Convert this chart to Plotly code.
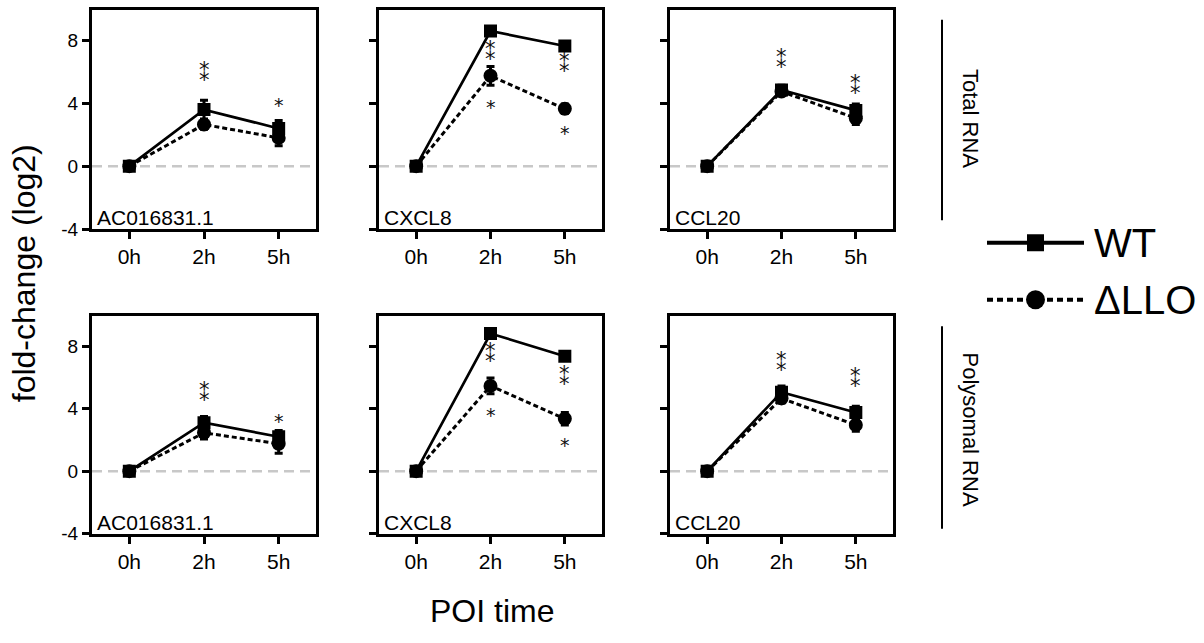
import plotly.graph_objects as go

# ---------------- data ----------------
times = ["0h", "2h", "5h"]
xpos = [0, 1, 2]
genes = ["AC016831.1", "CXCL8", "CCL20"]
fractions = ["Total RNA", "Polysomal RNA"]

# Total RNA
wt_total = [[0.0, 3.6, 2.4], [0.0, 8.6, 7.65], [0.0, 4.85, 3.55]]
wt_total_err = [[0.1, 0.6, 0.5], [0.1, 0.2, 0.2], [0.1, 0.3, 0.4]]
dllo_total = [[0.0, 2.65, 1.8], [0.0, 5.75, 3.65], [0.0, 4.75, 3.05]]
dllo_total_err = [[0.1, 0.3, 0.5], [0.1, 0.6, 0.3], [0.1, 0.2, 0.4]]

# Polysomal RNA
wt_poly = [[0.0, 3.1, 2.2], [0.0, 8.8, 7.35], [0.0, 5.05, 3.75]]
wt_poly_err = [[0.1, 0.4, 0.4], [0.1, 0.2, 0.2], [0.1, 0.4, 0.4]]
dllo_poly = [[0.0, 2.45, 1.75], [0.0, 5.45, 3.35], [0.0, 4.65, 2.95]]
dllo_poly_err = [[0.1, 0.4, 0.6], [0.1, 0.5, 0.4], [0.1, 0.3, 0.4]]

# significance marks: (x index, y centre, number of stacked asterisks)
stars_total = [
    [(1, 5.9, 2), (2, 4.2, 1)],
    [(1, 7.25, 2), (1, 4.1, 1), (2, 6.45, 2), (2, 2.4, 1)],
    [(1, 6.75, 2), (2, 5.1, 2)],
]
stars_poly = [
    [(1, 4.95, 2), (2, 3.55, 1)],
    [(1, 7.45, 2), (1, 3.9, 1), (2, 6.0, 2), (2, 2.0, 1)],
    [(1, 6.9, 2), (2, 5.85, 2)],
]

y_tickvals = [-4, 0, 4, 8]
y_ticktext = ["-4", "0", "4", "8"]
legend_names = ["WT", "ΔLLO"]

FONT = "Liberation Sans, Arial, Helvetica, sans-serif"
STARFONT = "DejaVu Sans, sans-serif"
W, H = 1204, 643

def px_x(p):
    return p / W

def px_y(p):
    return 1 - p / H

col_px = [(92, 316), (379, 602), (670, 893)]
row_px = [(10, 233), (321, 543)]

fig = go.Figure()

rows = [
    (wt_total, wt_total_err, dllo_total, dllo_total_err, stars_total),
    (wt_poly, wt_poly_err, dllo_poly, dllo_poly_err, stars_poly),
]

annotations = []
shapes = []
ax_idx = 0
for r, (wt, wte, dl, dle, stars) in enumerate(rows):
    for c in range(3):
        ax_idx += 1
        xa = "x" if ax_idx == 1 else f"x{ax_idx}"
        ya = "y" if ax_idx == 1 else f"y{ax_idx}"
        xkey = "xaxis" if ax_idx == 1 else f"xaxis{ax_idx}"
        ykey = "yaxis" if ax_idx == 1 else f"yaxis{ax_idx}"
        x0, x1 = col_px[c]
        y0, y1 = row_px[r]
        fig.update_layout({
            xkey: dict(
                domain=[px_x(x0), px_x(x1)], anchor=ya, range=[-0.5, 2.5],
                tickvals=xpos, ticktext=times, showline=True, mirror=True,
                linecolor="black", linewidth=3, ticks="outside", ticklen=7,
                tickwidth=2.5, tickcolor="black", showgrid=False, zeroline=False,
                tickfont=dict(family=FONT, size=21, color="black"),
            ),
            ykey: dict(
                domain=[px_y(y1), px_y(y0)], anchor=xa, range=[-4, 9.95],
                tickvals=y_tickvals, ticktext=y_ticktext if c == 0 else None,
                showticklabels=(c == 0), showline=True, mirror=True,
                linecolor="black", linewidth=3, ticks="outside", ticklen=7,
                tickwidth=2.5, tickcolor="black", showgrid=False, zeroline=False,
                tickfont=dict(family=FONT, size=19, color="black"),
            ),
        })
        # zero reference line
        shapes.append(dict(
            type="line", xref=f"{xa} domain", yref=ya, x0=0, x1=1, y0=0, y1=0,
            line=dict(color="#c8c8c8", width=2.5, dash="10px,6px"), layer="below",
        ))
        # ΔLLO
        fig.add_trace(go.Scatter(
            x=xpos, y=dl[c], xaxis=xa, yaxis=ya, mode="lines+markers",
            line=dict(color="black", width=3, dash="5px,3px"),
            marker=dict(symbol="circle", size=14, color="black"),
            error_y=dict(type="data", array=dle[c], color="black", thickness=3, width=4),
            showlegend=False,
        ))
        # WT
        fig.add_trace(go.Scatter(
            x=xpos, y=wt[c], xaxis=xa, yaxis=ya, mode="lines+markers",
            line=dict(color="black", width=2.7),
            marker=dict(symbol="square", size=13, color="black"),
            error_y=dict(type="data", array=wte[c], color="black", thickness=3, width=4),
            showlegend=False,
        ))
        # gene label
        annotations.append(dict(
            text=genes[c], xref=f"{xa} domain", yref=f"{ya} domain", x=0, y=0,
            xanchor="left", yanchor="bottom", xshift=3, yshift=-2, showarrow=False,
            font=dict(family=FONT, size=21, color="black"),
        ))
        # asterisks
        for (sx, sy, n) in stars[c]:
            annotations.append(dict(
                text="⁑" if n == 2 else "*", xref=xa, yref=ya, x=sx, y=sy,
                xanchor="center", yanchor="middle", yshift=0 if n == 2 else -5,
                showarrow=False,
                font=dict(family=STARFONT, size=21 if n == 2 else 19, color="#111111"),
            ))

# strip labels on the right
strip_lines = [(20, 224), (332, 538)]
strip_centers = [120, 437]
for i, name in enumerate(fractions):
    ya0, ya1 = strip_lines[i]
    shapes.append(dict(type="line", xref="paper", yref="paper",
                       x0=px_x(942), x1=px_x(942), y0=px_y(ya0), y1=px_y(ya1),
                       line=dict(color="black", width=2)))
    annotations.append(dict(
        text=name, xref="paper", yref="paper", x=px_x(970), y=px_y(strip_centers[i]),
        xanchor="center", yanchor="middle", textangle=90, showarrow=False,
        font=dict(family=FONT, size=22, color="black"),
    ))

# axis titles
annotations.append(dict(
    text="fold-change (log2)", xref="paper", yref="paper", x=px_x(24), y=px_y(278),
    xanchor="center", yanchor="middle", textangle=-90, showarrow=False,
    font=dict(family=FONT, size=32, color="black"),
))
annotations.append(dict(
    text="POI time", xref="paper", yref="paper", x=px_x(492), y=px_y(622),
    xanchor="center", yanchor="middle", showarrow=False,
    font=dict(family=FONT, size=32, color="black"),
))

# legend drawn on a hidden axis
fig.update_layout(
    xaxis7=dict(domain=[px_x(987), px_x(1084)], range=[0, 1], visible=False, anchor="y7"),
    yaxis7=dict(domain=[px_y(334), px_y(218)], range=[0, 1], visible=False, anchor="x7"),
)
fig.add_trace(go.Scatter(
    x=[0, 0.5, 1], y=[0.75, 0.75, 0.75], xaxis="x7", yaxis="y7", mode="lines",
    line=dict(color="black", width=4), showlegend=False, hoverinfo="skip"))
fig.add_trace(go.Scatter(
    x=[0.5], y=[0.75], xaxis="x7", yaxis="y7", mode="markers",
    marker=dict(symbol="square", size=17, color="black"), showlegend=False, hoverinfo="skip"))
fig.add_trace(go.Scatter(
    x=[0, 1], y=[0.25, 0.25], xaxis="x7", yaxis="y7", mode="lines",
    line=dict(color="black", width=4, dash="6px,4px"), showlegend=False, hoverinfo="skip"))
fig.add_trace(go.Scatter(
    x=[0.5], y=[0.25], xaxis="x7", yaxis="y7", mode="markers",
    marker=dict(symbol="circle", size=19, color="black"), showlegend=False, hoverinfo="skip"))
for yv, name in zip([0.75, 0.25], legend_names):
    annotations.append(dict(
        text=name, xref="x7", yref="y7", x=1, y=yv, xanchor="left", yanchor="middle",
        xshift=8, showarrow=False, font=dict(family=FONT, size=40, color="black"),
    ))

fig.update_layout(
    width=W, height=H, margin=dict(l=0, r=0, t=0, b=0),
    paper_bgcolor="white", plot_bgcolor="white",
    annotations=annotations, shapes=shapes, showlegend=False,
)

fig.write_html("out.html")
